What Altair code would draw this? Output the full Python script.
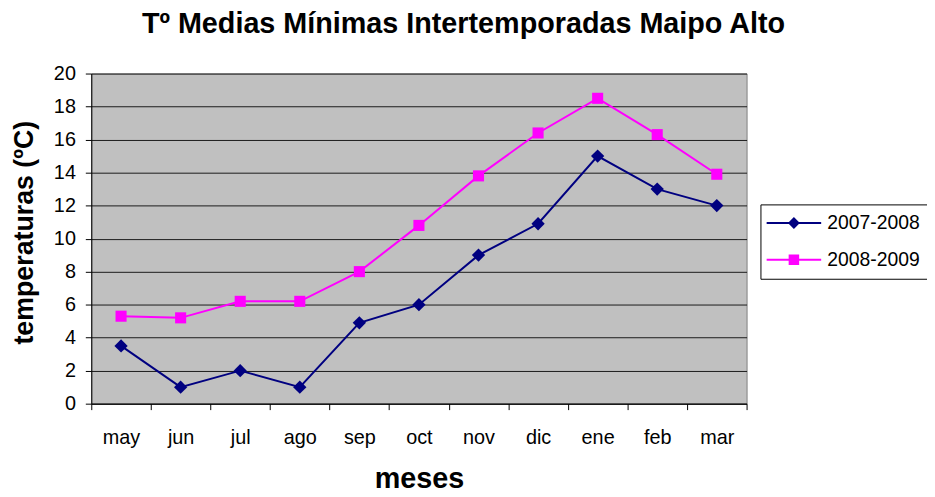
import altair as alt
import pandas as pd

months = ['may', 'jun', 'jul', 'ago', 'sep', 'oct', 'nov', 'dic', 'ene', 'feb', 'mar']
series = ['2007-2008', '2008-2009']
s2007 = [3.5, 1.0, 2.0, 1.0, 4.9, 6.0, 9.0, 10.9, 15.0, 13.0, 12.0]
s2008 = [5.3, 5.2, 6.2, 6.2, 8.0, 10.8, 13.8, 16.4, 18.5, 16.3, 13.9]
colors = ['#000080', '#FF00FF']
y_ticks = list(range(0, 21, 2))

rows = []
for name, vals in zip(series, [s2007, s2008]):
    for i, (m, v) in enumerate(zip(months, vals)):
        rows.append({'mes': m, 'serie': name, 'temp': v, 'idx': i})
df = pd.DataFrame(rows)

FONT = 'Liberation Sans'

# legend symbols: line segment + marker (pixel units with size 4)
leg_diamond = 'M-27.5,-1H27.5V1H-27.5ZM0,-6L6,0L0,6L-6,0Z'
leg_square = 'M-27.5,-1H27.5V1H-27.5ZM-5.3,-5.3H5.3V5.3H-5.3Z'

x_enc = alt.X('mes:N', sort=months, bandPosition=0.5,
              scale=alt.Scale(type='band', paddingInner=0, paddingOuter=0),
              axis=alt.Axis(title='meses', tickBand='extent', grid=False,
                            labelFontSize=20, labelFont=FONT, labelColor='black',
                            labelPadding=18, labelAngle=0,
                            tickSize=6, tickColor='black', domainColor='black',
                            titleFontSize=29, titleFont=FONT, titleFontWeight='bold',
                            titleColor='black', titleY=85, titleBaseline='alphabetic'))
y_enc = alt.Y('temp:Q', scale=alt.Scale(domain=[0, 20], nice=False, zero=True),
              axis=alt.Axis(title='temperaturas (ºC)', values=y_ticks, grid=True,
                            gridColor='#1a1a1a', gridWidth=1,
                            labelFontSize=20, labelFont=FONT, labelColor='black',
                            labelPadding=10, tickSize=6, tickColor='black',
                            domainColor='black',
                            titleFontSize=27, titleFont=FONT, titleFontWeight='bold',
                            titleColor='black', titleX=-67, titleY=160,
                            titleBaseline='middle', titleAlign='center'))

color_scale = alt.Scale(domain=series, range=colors)

lines = alt.Chart(df).mark_line(strokeWidth=2).encode(
    x=x_enc, y=y_enc,
    color=alt.Color('serie:N', scale=color_scale, legend=None),
    order=alt.Order('idx:Q'),
)

points = alt.Chart(df).mark_point(filled=True, opacity=1).encode(
    x=x_enc, y=y_enc,
    color=alt.Color('serie:N', scale=color_scale, legend=None),
    shape=alt.Shape('serie:N', scale=alt.Scale(domain=series, range=['diamond', 'square']), legend=None),
    size=alt.Size('serie:N', scale=alt.Scale(domain=series, range=[180, 125]), legend=None),
)

legend_kw = dict(title=None, orient='none', legendX=675, legendY=132,
                 fillColor='white', strokeColor='black', padding=9,
                 labelFontSize=19.5, labelFont=FONT, labelColor='black',
                 symbolSize=4, symbolOffset=15, labelOffset=24, rowPadding=16,
                 symbolStrokeWidth=0)

legend_layer = alt.Chart(df).transform_filter('false').mark_point(filled=True, opacity=1, size=4).encode(
    x=x_enc, y=y_enc,
    color=alt.Color('serie:N', scale=alt.Scale(domain=series, range=colors),
                    legend=alt.Legend(**legend_kw)),
    shape=alt.Shape('serie:N', scale=alt.Scale(domain=series, range=[leg_diamond, leg_square]),
                    legend=alt.Legend(**legend_kw)),
)

chart = alt.layer(lines, points, legend_layer).resolve_scale(
    color='independent', shape='independent'
).properties(
    width=661, height=333,
    autosize=alt.AutoSizeParams(type='none'),
    padding={'left': 84, 'top': 64, 'right': 182, 'bottom': 90},
    title=alt.TitleParams('Tº Medias Mínimas Intertemporadas Maipo Alto',
                          fontSize=29, font=FONT, fontWeight='bold', color='black',
                          anchor='middle', frame='group', dx=45, offset=2,
                          baseline='alphabetic'),
    background='white',
).configure_view(
    fill='#C0C0C0', stroke='#808080', strokeWidth=1
)

chart.save('out.html', embed_options={'renderer': 'svg', 'actions': False})
